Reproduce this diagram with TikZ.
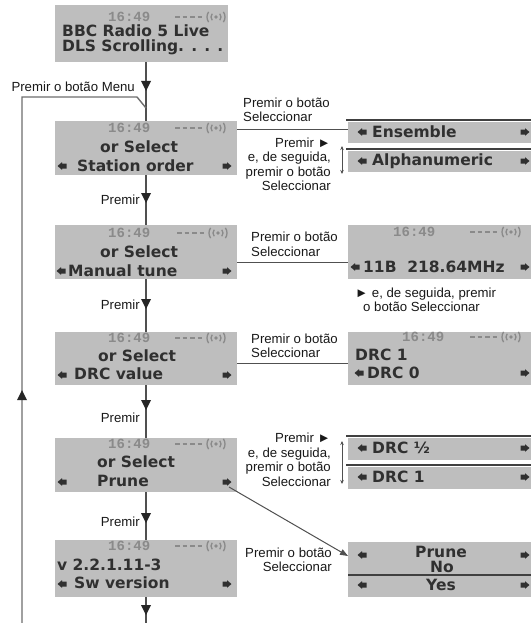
\documentclass[tikz,border=0pt]{standalone}
\usepackage{fontspec}
\setmainfont{Liberation Sans}
\newfontfamily\lcdfont{DejaVu Sans}
\newfontfamily\timefont{Liberation Mono}
\usetikzlibrary{arrows.meta}
\definecolor{lcd}{RGB}{190,190,190}
\definecolor{lcdtext}{RGB}{48,48,48}
\definecolor{lcdtime}{RGB}{138,138,138}
\definecolor{wire}{RGB}{80,80,80}
\definecolor{loopc}{RGB}{110,110,110}
\definecolor{labeltext}{RGB}{25,25,25}
\newcommand{\tridown}[1]{\fill[black!85] (#1) ++(-5,-5) -- ++(10,0) -- ++(-5,10) -- cycle;}
\newcommand{\triup}[1]{\fill[black!85] (#1) ++(-5,5) -- ++(10,0) -- ++(-5,-10) -- cycle;}
\newcommand{\rarr}[1]{\fill[lcdtext] (#1) ++(-4.5,-2.5) -- ++(4.5,0) -- ++(0,-1.3) -- ++(4.5,3.8) -- ++(-4.5,3.8) -- ++(0,-1.3) -- ++(-4.5,0) -- cycle;}
\newcommand{\larr}[1]{\fill[lcdtext] (#1) ++(4.5,-2.5) -- ++(-4.5,0) -- ++(0,-1.3) -- ++(-4.5,3.8) -- ++(4.5,3.8) -- ++(0,-1.3) -- ++(4.5,0) -- cycle;}
\newcommand{\radio}[1]{%
  \draw[lcdtime, line width=1.2pt, dash pattern=on 4.5pt off 3pt] (#1) -- ++(28,0);
  \fill[lcdtime] (#1) ++(41,0) circle (1.8);
  \draw[lcdtime, line width=1.3pt] (#1) ++(41,0) ++(140:5) arc (140:220:5);
  \draw[lcdtime, line width=1.3pt] (#1) ++(41,0) ++(-40:5) arc (-40:40:5);
  \draw[lcdtime, line width=1.3pt] (#1) ++(41,0) ++(145:9) arc (145:215:9);
  \draw[lcdtime, line width=1.3pt] (#1) ++(41,0) ++(-35:9) arc (-35:35:9);}
\begin{document}
\begin{tikzpicture}[x=1pt,y=-1pt,
  lcdbox/.style={fill=lcd, draw=none, inner sep=0pt, outer sep=0pt},
  lcdtxt/.style={font=\lcdfont\bfseries\fontsize{15.5}{17}\selectfont, text=lcdtext, inner sep=0pt, anchor=west},
  timetxt/.style={font=\timefont\bfseries\fontsize{14}{16}\selectfont, text=lcdtime, inner sep=0pt, anchor=west},
  lbl/.style={font=\fontsize{13.2}{14.5}\selectfont, text=labeltext, inner sep=0pt},
  wireline/.style={draw=wire, line width=1pt},
  mainline/.style={draw=wire, line width=1.2pt},
  loopline/.style={draw=loopc, line width=1.4pt},
  stripline/.style={draw=black!75, line width=1.4pt}]
\useasboundingbox (0,0) rectangle (532,623);
\fill[white] (0,0) rectangle (532,623);

% ---- left column boxes
\node[lcdbox, minimum width=173pt, minimum height=57pt] (b1) at (141.5,33.5) {};
\node[lcdbox, minimum width=182pt, minimum height=54pt] (b2) at (146,148) {};
\node[lcdbox, minimum width=182pt, minimum height=54pt] (b3) at (146,252) {};
\node[lcdbox, minimum width=182pt, minimum height=53pt] (b4) at (146,358.5) {};
\node[lcdbox, minimum width=182pt, minimum height=54pt] (b5) at (146,465) {};
\node[lcdbox, minimum width=182pt, minimum height=57pt] (b6) at (146,568.5) {};

% ---- right column boxes
\node[lcdbox, minimum width=183pt, minimum height=21pt] (ens) at (439.5,132.5) {};
\node[lcdbox, minimum width=183pt, minimum height=21pt] (alp) at (439.5,161.5) {};
\node[lcdbox, minimum width=183pt, minimum height=54pt] (mt) at (439.5,252) {};
\node[lcdbox, minimum width=183pt, minimum height=53pt] (drv) at (439.5,358.5) {};
\node[lcdbox, minimum width=183pt, minimum height=22pt] (drh) at (439.5,449) {};
\node[lcdbox, minimum width=183pt, minimum height=22pt] (drc) at (439.5,478) {};
\node[lcdbox, minimum width=183pt, minimum height=55pt] (pr) at (439.5,569.5) {};

\draw[stripline] ([yshift=2pt,xshift=-2pt]ens.north west) -- ([yshift=2pt]ens.north east);
\draw[stripline] ([yshift=2pt,xshift=-2pt]alp.north west) -- ([yshift=2pt]alp.north east);
\draw[stripline] ([yshift=2pt,xshift=-2pt]drh.north west) -- ([yshift=2pt]drh.north east);
\draw[stripline] ([yshift=2pt,xshift=-2pt]drc.north west) -- ([yshift=2pt]drc.north east);
\coordinate (prl) at (348,575);
\draw[stripline] (prl) -- (prl -| pr.east);

% ---- box 1 texts
\node[timetxt] (t1) at (108,17) {16:49};
\radio{175,17}
\node[lcdtxt] (x1a) at (62,31) {BBC Radio 5 Live};
\node[lcdtxt] (x1b) at (62,47) {DLS Scrolling. . . .};

% ---- box 2
\node[timetxt] (t2) at (108,128) {16:49};
\radio{175,128}
\node[lcdtxt] (x2a) at (100,147) {or Select};
\node[lcdtxt] (x2b) at (77,166) {Station order};
\larr{62,166} \rarr{227,166}

% ---- box 3
\node[timetxt] (t3) at (108,233) {16:49};
\radio{177,233}
\node[lcdtxt] (x3a) at (100,252) {or Select};
\node[lcdtxt] (x3b) at (68,271) {Manual tune};
\larr{61,271} \rarr{227,271}

% ---- box 4
\node[timetxt] (t4) at (108,338) {16:49};
\radio{175,338}
\node[lcdtxt] (x4a) at (98,356) {or Select};
\node[lcdtxt] (x4b) at (74,374) {DRC value};
\larr{62,375} \rarr{227,375}

% ---- box 5
\node[timetxt] (t5) at (108,444) {16:49};
\radio{175,444}
\node[lcdtxt] (x5a) at (97,462) {or Select};
\node[lcdtxt] (x5b) at (97,481) {Prune};
\larr{62,482} \rarr{227,482}

% ---- box 6
\node[timetxt] (t6) at (108,546) {16:49};
\radio{175,546}
\node[lcdtxt] (x6a) at (57,565) {v 2.2.1.11-3};
\node[lcdtxt] (x6b) at (74,583) {Sw version};
\larr{62,584} \rarr{227,584}

% ---- right texts
\larr{362,132} \rarr{525,132}
\node[lcdtxt] (xe) at (372,132) {Ensemble};
\larr{362,161} \rarr{525,161}
\node[lcdtxt] (xa) at (372,161) {Alphanumeric};

\node[timetxt] (tm) at (393,232) {16:49};
\radio{470,232}
\larr{355,267} \rarr{525,267}
\node[lcdtxt] (xm) at (363,267) {11B\ \ 218.64MHz};

\node[timetxt] (td) at (402,337) {16:49};
\radio{470,337}
\node[lcdtxt] (xd1) at (355,355) {DRC 1};
\larr{359,373} \rarr{525,373}
\node[lcdtxt] (xd0) at (367,373) {DRC 0};

\larr{362,448} \rarr{525,448}
\node[lcdtxt] (xh) at (372,448) {DRC ½};
\larr{362,477} \rarr{525,477}
\node[lcdtxt] (xc) at (372,477) {DRC 1};

\node[lcdtxt, anchor=center] (xp) at (441,552) {Prune};
\node[lcdtxt, anchor=center] (xn) at (442,567) {No};
\node[lcdtxt, anchor=center] (xy) at (441,585) {Yes};
\larr{362,555} \rarr{525,555}
\larr{362,585} \rarr{525,585}

% ---- main vertical line
\coordinate (bot) at (146,623);
\draw[mainline] (b2.north |- b1.south) -- (b2.north);
\draw[mainline] (b2.south) -- (b3.north);
\draw[mainline] (b3.south) -- (b4.north);
\draw[mainline] (b4.south) -- (b5.north);
\draw[mainline] (b5.south) -- (b6.north);
\draw[mainline] (b6.south) -- (bot);
\tridown{146,86}
\tridown{146,198}
\tridown{146,304}
\tridown{146,405}
\tridown{146,518}
\tridown{146,610}

% ---- loop back line
\coordinate (lb) at (22,623);
\coordinate (lt) at (22,97);
\coordinate (lk) at (137,97);
\coordinate (lj) at (146,108);
\draw[loopline] (lb) -- (lt) -- (lk) -- (lj);
\triup{22,395}

% ---- horizontal connectors
\coordinate (c2) at ([yshift=3pt]ens.west);
\draw[wireline] (c2 -| b2.east) -- (c2);
\coordinate (c3) at ([yshift=-10pt]mt.west);
\draw[wireline] (c3 -| b3.east) -- (c3);
\coordinate (c4) at ([yshift=-4.5pt]drv.west);
\draw[wireline] (c4 -| b4.east) -- (c4);

% ---- double arrows
\coordinate (da1) at (342,146);
\coordinate (da2) at (342,174);
\draw[wireline, {Stealth[length=4pt,width=3.5pt]}-{Stealth[length=4pt,width=3.5pt]}] (da1) -- (da2);
\coordinate (da3) at (342,441);
\coordinate (da4) at (342,484);
\draw[wireline, {Stealth[length=4pt,width=3.5pt]}-{Stealth[length=4pt,width=3.5pt]}] (da3) -- (da4);

% ---- diagonal arrow to Prune
\coordinate (ds) at (229,487);
\draw[wireline, -{Triangle[length=8pt,width=6pt]}] (ds) -- ([yshift=13.5pt]pr.west);

% ---- labels
\node[lbl, anchor=east] (lmenu) at (135,87) {Premir o botão Menu};
\node[lbl, anchor=west, align=left] (l2) at (243,110) {Premir o botão\\Seleccionar};
\node[lbl, anchor=east, align=right] (l2b) at (331,164.5) {Premir ►\\e, de seguida,\\premir o botão\\Seleccionar};
\node[lbl, anchor=east] (p1) at (140,200) {Premir};
\node[lbl, anchor=west, align=left] (l3) at (251,244.5) {Premir o botão\\Seleccionar};
\node[lbl, anchor=west, align=left] (l3b) at (355,300) {► e, de seguida, premir\\\hspace*{8pt}o botão Seleccionar};
\node[lbl, anchor=east] (p2) at (140,305) {Premir};
\node[lbl, anchor=west, align=left] (l4) at (251,346) {Premir o botão\\Seleccionar};
\node[lbl, anchor=east] (p3) at (140,418) {Premir};
\node[lbl, anchor=east, align=right] (l5b) at (331,460) {Premir ►\\e, de seguida,\\premir o botão\\Seleccionar};
\node[lbl, anchor=east] (p4) at (140,522) {Premir};
\node[lbl, anchor=east, align=right] (l6) at (332,560) {Premir o botão\\Seleccionar};
\end{tikzpicture}
\end{document}
